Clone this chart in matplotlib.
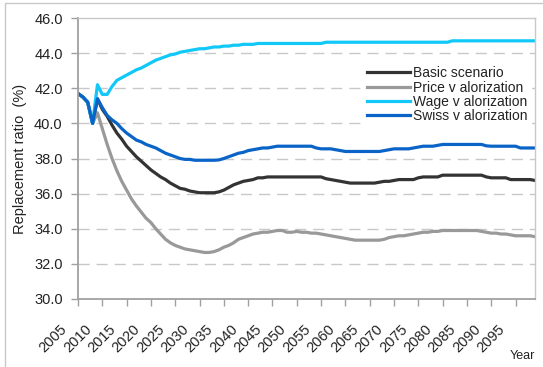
import numpy as np
import matplotlib
matplotlib.use("Agg")
import matplotlib.pyplot as plt
from matplotlib.patches import Rectangle
from matplotlib.transforms import offset_copy

plt.rcParams['font.family'] = ['Liberation Sans', 'DejaVu Sans']

# years on the category axis
years = list(range(2005, 2100))

basic = [41.7, 41.5, 41.2, 40.0, 41.4, 40.8, 40.4, 39.9, 39.45, 39.1,
         38.7, 38.4, 38.1, 37.85, 37.6, 37.35, 37.15, 36.95, 36.8, 36.6,
         36.45, 36.3, 36.25, 36.15, 36.1, 36.05, 36.05, 36.05, 36.05, 36.1,
         36.2, 36.35, 36.5, 36.6, 36.7, 36.75, 36.8, 36.9, 36.9, 36.95,
         36.95, 36.95, 36.95, 36.95, 36.95, 36.95, 36.95, 36.95, 36.95, 36.95,
         36.95, 36.85, 36.8, 36.75, 36.7, 36.65, 36.6, 36.6, 36.6, 36.6,
         36.6, 36.6, 36.65, 36.7, 36.7, 36.75, 36.8, 36.8, 36.8, 36.8,
         36.9, 36.95, 36.95, 36.95, 36.95, 37.05, 37.05, 37.05, 37.05, 37.05,
         37.05, 37.05, 37.05, 37.05, 36.95, 36.9, 36.9, 36.9, 36.9, 36.8,
         36.8, 36.8, 36.8, 36.8, 36.75]

price = [41.7, 41.5, 41.2, 40.0, 40.6, 39.7, 38.8, 38.0, 37.3, 36.7,
         36.2, 35.7, 35.3, 34.95, 34.6, 34.35, 34.0, 33.7, 33.4, 33.2,
         33.05, 32.95, 32.85, 32.8, 32.75, 32.7, 32.65, 32.65, 32.7, 32.8,
         32.95, 33.05, 33.2, 33.4, 33.5, 33.6, 33.7, 33.75, 33.8, 33.8,
         33.85, 33.9, 33.9, 33.8, 33.8, 33.85, 33.8, 33.8, 33.75, 33.75,
         33.7, 33.65, 33.6, 33.55, 33.5, 33.45, 33.4, 33.35, 33.35, 33.35,
         33.35, 33.35, 33.35, 33.4, 33.5, 33.55, 33.6, 33.6, 33.65, 33.7,
         33.75, 33.8, 33.8, 33.85, 33.85, 33.9, 33.9, 33.9, 33.9, 33.9,
         33.9, 33.9, 33.9, 33.85, 33.8, 33.75, 33.75, 33.7, 33.7, 33.65,
         33.6, 33.6, 33.6, 33.6, 33.55]

wage = [41.7, 41.5, 41.2, 40.0, 42.2, 41.65, 41.65, 42.1, 42.45, 42.6,
        42.75, 42.9, 43.05, 43.15, 43.3, 43.45, 43.6, 43.7, 43.8, 43.9,
        43.95, 44.05, 44.1, 44.15, 44.2, 44.25, 44.25, 44.3, 44.35, 44.35,
        44.4, 44.4, 44.45, 44.45, 44.5, 44.5, 44.5, 44.55, 44.55, 44.55,
        44.55, 44.55, 44.55, 44.55, 44.55, 44.55, 44.55, 44.55, 44.55, 44.55,
        44.55, 44.62, 44.62, 44.62, 44.62, 44.62, 44.62, 44.62, 44.62, 44.62,
        44.62, 44.62, 44.62, 44.62, 44.62, 44.62, 44.62, 44.62, 44.62, 44.62,
        44.62, 44.62, 44.62, 44.62, 44.62, 44.62, 44.62, 44.7, 44.7, 44.7,
        44.7, 44.7, 44.7, 44.7, 44.7, 44.7, 44.7, 44.7, 44.7, 44.7,
        44.7, 44.7, 44.7, 44.7, 44.7]

swiss = [41.7, 41.5, 41.2, 40.0, 41.4, 40.9, 40.45, 40.2, 40.0, 39.7,
         39.45, 39.25, 39.05, 38.95, 38.8, 38.7, 38.6, 38.45, 38.3, 38.2,
         38.1, 38.0, 37.95, 37.95, 37.9, 37.9, 37.9, 37.9, 37.9, 37.92,
         38.0, 38.1, 38.2, 38.3, 38.35, 38.45, 38.5, 38.55, 38.6, 38.6,
         38.65, 38.7, 38.7, 38.7, 38.7, 38.7, 38.7, 38.7, 38.7, 38.6,
         38.55, 38.55, 38.55, 38.5, 38.45, 38.4, 38.4, 38.4, 38.4, 38.4,
         38.4, 38.4, 38.4, 38.45, 38.5, 38.55, 38.55, 38.55, 38.55, 38.6,
         38.65, 38.7, 38.7, 38.7, 38.75, 38.8, 38.8, 38.8, 38.8, 38.8,
         38.8, 38.8, 38.8, 38.8, 38.72, 38.7, 38.7, 38.7, 38.7, 38.7,
         38.7, 38.6, 38.6, 38.6, 38.6]

labels = ['Basic scenario', 'Price v alorization', 'Wage v alorization', 'Swiss v alorization']
colors = ['#333333', '#999999', '#11c8f8', '#0a64c8']
tick_years = list(range(2005, 2100, 5))

W, H = 543, 367
fig = plt.figure(figsize=(W / 100, H / 100), dpi=100)
ax = fig.add_axes([78 / W, 1 - 299 / H, (535 - 78) / W, (299 - 18) / H])

# outer chart-area frame (top and left edges visible)
fig.patches.append(Rectangle((5 / W, -0.1), 1.2, 1 - 3 / H + 0.1,
                             transform=fig.transFigure, fill=False,
                             edgecolor='#c8c8c8', lw=1.0))

for series, lab, col in zip([basic, price, wage, swiss], labels, colors):
    ax.plot(years, series, color=col, lw=2.3, label=lab, solid_joinstyle='round')

ax.set_xlim(2005, 2099)
ax.set_ylim(30, 46)
yt = np.arange(30, 46.1, 2)
ax.set_yticks(yt)
ax.set_yticklabels(['%.1f' % v for v in yt], fontsize=10.5, color='#222222')
ax.set_xticks(tick_years)
ax.set_xticklabels([])

# rotated year labels, set off below and left of the ticks like the original
lab_tr = offset_copy(ax.get_xaxis_transform(), fig=fig, x=-13, y=-28, units='dots')
for yr in tick_years:
    ax.text(yr, 0, str(yr), transform=lab_tr, rotation=45, rotation_mode='anchor',
            ha='right', va='center', fontsize=10.5, color='#222222')

for yv in range(32, 46, 2):
    ax.axhline(yv, color='#c8c8c8', lw=1.0, dashes=(8, 5), zorder=0)

for s in ['top', 'right']:
    ax.spines[s].set_color('#c8c8c8')
    ax.spines[s].set_linewidth(1.0)
for s in ['left', 'bottom']:
    ax.spines[s].set_color('#a0a0a0')
    ax.spines[s].set_linewidth(1.3)
ax.tick_params(axis='both', color='#a0a0a0', length=5, width=1.0)
ax.tick_params(axis='y', pad=6)

ax.set_ylabel('Replacement ratio  (%)', fontsize=10.5, color='#222222', labelpad=5)
fig.text(535 / W, 1 - 356 / H, 'Year', ha='right', va='center', fontsize=9, color='#222222')

leg = ax.legend(loc='upper left', bbox_to_anchor=(356 / W, 1 - 55 / H),
                bbox_transform=fig.transFigure, fontsize=10,
                handlelength=3.1, handletextpad=0.2, labelspacing=0.03,
                borderpad=0.3, frameon=True, fancybox=False,
                framealpha=1, edgecolor='none', facecolor='white')
for t in leg.get_texts():
    t.set_color('#222222')

fig.savefig('out.png', dpi=100)
